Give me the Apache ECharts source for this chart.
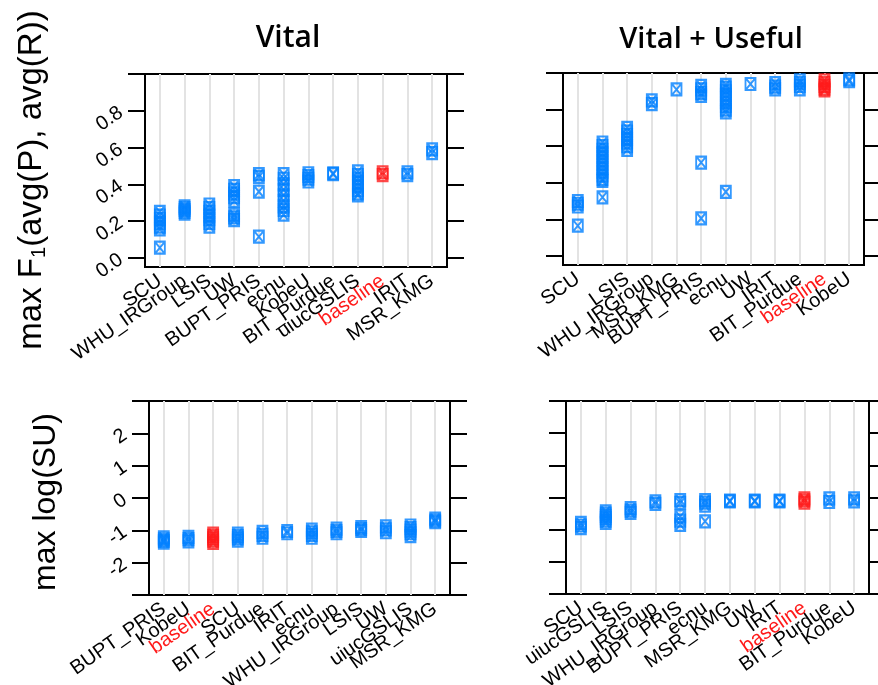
<!DOCTYPE html>
<html>
<head>
<meta charset="utf-8">
<script src="https://cdn.jsdelivr.net/npm/echarts@6/dist/echarts.min.js"></script>
<style>
    html, body { margin: 0; padding: 0; background: #fff; }
    #container { width: 878px; height: 685px; }
</style>
</head>
<body>
<div id="container"></div>
<script type="text/javascript">
    // ---- data: one array of run values per team, in panel order ----
    var vitalF1Teams = ['SCU', 'WHU_IRGroup', 'LSIS', 'UW', 'BUPT_PRIS', 'ecnu', 'KobeU', 'BIT_Purdue', 'uiucGSLIS', 'baseline', 'IRIT', 'MSR_KMG'];
    var vitalF1Runs = [
        [0.25, 0.23, 0.21, 0.19, 0.17, 0.155, 0.055],
        [0.28, 0.27, 0.26, 0.25, 0.24],
        [0.29, 0.27, 0.25, 0.23, 0.21, 0.19, 0.17],
        [0.39, 0.37, 0.35, 0.33, 0.31, 0.235, 0.22, 0.205],
        [0.455, 0.44, 0.36, 0.115],
        [0.455, 0.43, 0.40, 0.37, 0.34, 0.31, 0.28, 0.26, 0.235],
        [0.46, 0.445, 0.43, 0.415],
        [0.46, 0.455],
        [0.47, 0.45, 0.43, 0.41, 0.39, 0.37, 0.35, 0.34],
        [0.465, 0.45],
        [0.465, 0.45],
        [0.59, 0.57]
    ];

    // second column has no label in the original figure
    var usefulF1Teams = ['SCU', '', 'LSIS', 'WHU_IRGroup', 'MSR_KMG', 'BUPT_PRIS', 'ecnu', 'UW', 'IRIT', 'BIT_Purdue', 'baseline', 'KobeU'];
    var usefulF1Runs = [
        [0.30, 0.285, 0.27, 0.165],
        [0.62, 0.60, 0.58, 0.56, 0.54, 0.52, 0.50, 0.48, 0.46, 0.44, 0.42, 0.41, 0.32],
        [0.70, 0.68, 0.66, 0.64, 0.62, 0.60, 0.58],
        [0.85, 0.83],
        [0.91],
        [0.93, 0.91, 0.89, 0.875, 0.51, 0.205],
        [0.935, 0.92, 0.90, 0.88, 0.86, 0.84, 0.82, 0.80, 0.785, 0.35],
        [0.94],
        [0.945, 0.925, 0.91],
        [0.96, 0.945, 0.93, 0.91],
        [0.96, 0.945, 0.93, 0.915, 0.905],
        [0.965, 0.955]
    ];

    var vitalSUTeams = ['BUPT_PRIS', 'KobeU', 'baseline', 'SCU', 'BIT_Purdue', 'IRIT', 'ecnu', 'WHU_IRGroup', 'LSIS', 'UW', 'uiucGSLIS', 'MSR_KMG'];
    var vitalSURuns = [
        [-1.22, -1.28, -1.33, -1.38],
        [-1.2, -1.27, -1.34],
        [-1.1, -1.17, -1.25, -1.32, -1.39],
        [-1.1, -1.18, -1.25, -1.32],
        [-1.05, -1.14, -1.23],
        [-1.02, -1.09],
        [-0.98, -1.06, -1.14, -1.23],
        [-0.95, -1.02, -1.09],
        [-0.9, -0.96, -1.02],
        [-0.88, -0.97, -1.06],
        [-0.85, -0.93, -1.01, -1.09, -1.18],
        [-0.64, -0.7, -0.75]
    ];

    var usefulSUTeams = ['SCU', 'uiucGSLIS', 'LSIS', 'WHU_IRGroup', 'BUPT_PRIS', 'ecnu', 'MSR_KMG', 'UW', 'IRIT', 'baseline', 'BIT_Purdue', 'KobeU'];
    var usefulSURuns = [
        [-0.79, -0.87, -0.95],
        [-0.43, -0.5, -0.57, -0.64, -0.72, -0.79],
        [-0.33, -0.41, -0.48],
        [-0.12, -0.2],
        [-0.08, -0.17, -0.59, -0.72, -0.85],
        [-0.08, -0.16, -0.25, -0.74],
        [-0.1, -0.12],
        [-0.1, -0.12],
        [-0.1, -0.12],
        [-0.03, -0.09, -0.16],
        [-0.03, -0.14],
        [-0.03, -0.12]
    ];

    var f1Ticks = [0, 0.2, 0.4, 0.6, 0.8, 1.0];
    var f1Labels = [0, 0.2, 0.4, 0.6, 0.8];
    var suTicks = [-3, -2, -1, 0, 1, 2, 3];
    var suLabels = [-2, -1, 0, 1, 2];
    var colPositions = [1, 2, 3, 4, 5, 6, 7, 8, 9, 10, 11, 12];
    var oddCols = [1, 3, 5, 7, 9, 11];
    var evenCols = [2, 4, 6, 8, 10, 12];

    // ---- chart ----
    var dom = document.getElementById('container');
    var myChart = echarts.init(dom, null, {renderer: 'canvas'});

    var BLUE = '#0080ff';
    var RED = '#ff1a1a';
    var boxSymbol = 'path://M0,0L10,0L10,12L0,12Z M0,0L10,12 M10,0L0,12';
    var labelFont = 'Liberation Sans, Arial, sans-serif';

    var panels = [
        {teams: vitalF1Teams, runs: vitalF1Runs, grid: {left: 145, top: 74, width: 302, height: 193}, ymin: -0.05, ymax: 1.0, ticks: f1Ticks, labels: f1Labels, showY: true},
        {teams: usefulF1Teams, runs: usefulF1Runs, grid: {left: 563, top: 73, width: 301, height: 192}, ymin: -0.05, ymax: 1.0, ticks: f1Ticks, labels: f1Labels, showY: false},
        {teams: vitalSUTeams, runs: vitalSURuns, grid: {left: 149, top: 401, width: 301, height: 194}, ymin: -3, ymax: 3, ticks: suTicks, labels: suLabels, showY: true},
        {teams: usefulSUTeams, runs: usefulSURuns, grid: {left: 566, top: 401, width: 303, height: 193}, ymin: -3, ymax: 3, ticks: suTicks, labels: suLabels, showY: false}
    ];

    var grids = [], xAxes = [], yAxes = [], series = [];

    panels.forEach(function (p, i) {
        grids.push({
            left: p.grid.left, top: p.grid.top, width: p.grid.width, height: p.grid.height,
            show: true, borderColor: '#000', borderWidth: 2, backgroundColor: 'transparent',
            outerBoundsMode: 'none', containLabel: false
        });

        // team names overlap a bit once rotated, so odd and even columns get their own axis
        [oddCols, evenCols].forEach(function (cols, half) {
            xAxes.push({
                type: 'value', gridIndex: i, min: 0.4, max: 12.6, position: 'bottom', offset: 0,
                axisLine: {show: false},
                axisTick: {show: false, customValues: half === 0 ? colPositions : cols},
                splitLine: {show: half === 0, lineStyle: {color: '#e3e3e3', width: 2}},
                axisLabel: {
                    customValues: cols, rotate: 35, margin: 12,
                    showMinLabel: true, showMaxLabel: true, hideOverlap: false,
                    fontFamily: labelFont, fontSize: 20, color: '#000',
                    formatter: function (v) {
                        var name = p.teams[Math.round(v) - 1];
                        return name === 'baseline' ? '{r|baseline}' : name;
                    },
                    rich: {r: {color: RED, fontFamily: labelFont, fontSize: 20}}
                }
            });
        });

        [0, 1].forEach(function (side) {
            yAxes.push({
                type: 'value', gridIndex: i, min: p.ymin, max: p.ymax,
                position: side === 0 ? 'left' : 'right',
                axisLine: {show: false},
                axisTick: {show: true, inside: false, length: 17, customValues: p.ticks, lineStyle: {color: '#000', width: 2}},
                splitLine: {show: false},
                axisLabel: {
                    show: side === 0 && p.showY,
                    customValues: p.labels, rotate: 35, margin: 24,
                    showMinLabel: true, showMaxLabel: true,
                    fontFamily: labelFont, fontSize: 20, color: '#000',
                    formatter: function (v) {
                        return p.ymax > 2 ? String(v) : v.toFixed(1);
                    }
                }
            });
        });

        var runPts = [], basePts = [];
        p.runs.forEach(function (vals, k) {
            vals.forEach(function (v) {
                (p.teams[k] === 'baseline' ? basePts : runPts).push([k + 1, v]);
            });
        });

        series.push({
            type: 'scatter', xAxisIndex: i * 2, yAxisIndex: i * 2, data: runPts,
            symbol: boxSymbol, symbolSize: [10, 12],
            itemStyle: {color: 'rgba(0,0,0,0)', borderColor: BLUE, borderWidth: 2},
            silent: true
        });
        series.push({
            type: 'scatter', xAxisIndex: i * 2, yAxisIndex: i * 2, data: basePts,
            symbol: boxSymbol, symbolSize: [10, 12],
            itemStyle: {color: 'rgba(0,0,0,0)', borderColor: RED, borderWidth: 2},
            silent: true
        });
    });

    var option = {
        animation: false,
        backgroundColor: '#fff',
        grid: grids,
        xAxis: xAxes,
        yAxis: yAxes,
        series: series,
        graphic: [
            {type: 'text', x: 288, y: 38, style: {text: 'Vital', fontFamily: 'Open Sans, sans-serif', fontWeight: 600, fontSize: 30, fill: '#000', align: 'center', verticalAlign: 'middle'}},
            {type: 'text', x: 711, y: 40, style: {text: 'Vital + Useful', fontFamily: 'Open Sans, sans-serif', fontWeight: 600, fontSize: 29, fill: '#000', align: 'center', verticalAlign: 'middle'}},
            {type: 'text', x: 32, y: 180, rotation: Math.PI / 2,
                style: {text: 'max F{sub|1}(avg(P), avg(R))', fontFamily: labelFont, fontSize: 33, fill: '#000', align: 'center', verticalAlign: 'middle',
                    rich: {sub: {fontFamily: labelFont, fontSize: 20, verticalAlign: 'bottom', padding: [14, 0, 0, 0]}}}},
            {type: 'text', x: 46, y: 502, rotation: Math.PI / 2,
                style: {text: 'max log(SU)', fontFamily: labelFont, fontSize: 32, fill: '#000', align: 'center', verticalAlign: 'middle'}}
        ]
    };

    if (option && typeof option === 'object') {
        myChart.setOption(option);
    }
</script>
</body>
</html>
